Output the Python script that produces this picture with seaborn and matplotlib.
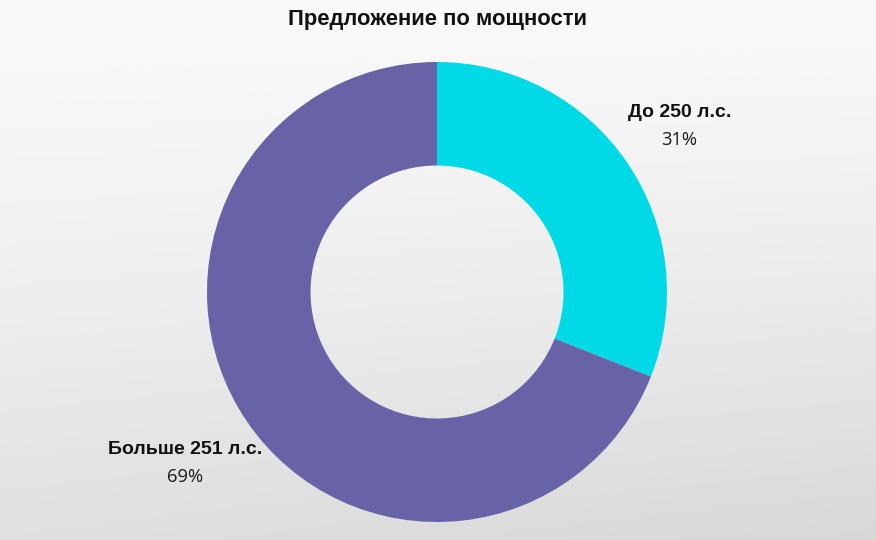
import numpy as np
import matplotlib
matplotlib.use('Agg')
import matplotlib.pyplot as plt
import seaborn as sns

sns.set_theme(style='white')
plt.rcParams['font.family'] = ['Open Sans', 'DejaVu Sans']

labels = ['До 250 л.с.', 'Больше 251 л.с.']
shares = [31, 69]
colors = sns.color_palette(['#00d9e6', '#6862a6'])

fig = plt.figure(figsize=(8.76, 5.4), dpi=100)

# light marble-like backdrop: near white at top, grey towards the bottom
bg = fig.add_axes([0, 0, 1, 1])
yy, xx = np.mgrid[0:1:200j, 0:1:300j]
shade = 0.975 - 0.10 * yy ** 1.4 - 0.03 * xx * yy
bg.imshow(shade, cmap='gray', vmin=0, vmax=1, aspect='auto', extent=[0, 1, 0, 1])
bg.set_axis_off()

# donut: centre (437, 292) px, outer radius 230 px
W, H = 876, 540
cx, cy, r = 437, 540 - 292, 230
ax = fig.add_axes([(cx - r) / W, (cy - r) / H, 2 * r / W, 2 * r / H])
wedges, _ = ax.pie(shares, colors=colors, startangle=90, counterclock=False,
                   radius=1, wedgeprops=dict(width=0.45, edgecolor='none'))
ax.set_xlim(-1, 1)
ax.set_ylim(-1, 1)
ax.set_aspect('equal')
ax.set_axis_off()

for w, name, val in zip(wedges, labels, shares):
    ang = np.deg2rad((w.theta1 + w.theta2) / 2)
    x, y = 1.3 * np.cos(ang) - 0.022, 1.3 * np.sin(ang) - 0.012
    ax.text(x, y + 0.06, name, ha='center', va='center', fontsize=14,
            fontweight='bold', color='#111111', clip_on=False,
            family=['Liberation Sans', 'DejaVu Sans'])
    ax.text(x, y - 0.06, f'{val}%', ha='center', va='center', fontsize=13.2,
            color='#1a1a1a', clip_on=False)

fig.text(0.5, 1 - 20 / H, 'Предложение по мощности', ha='center', va='center',
         fontsize=15.8, fontweight='bold', color='#111111',
         family=['Liberation Sans', 'DejaVu Sans'])

fig.savefig('out.png', dpi=100)
